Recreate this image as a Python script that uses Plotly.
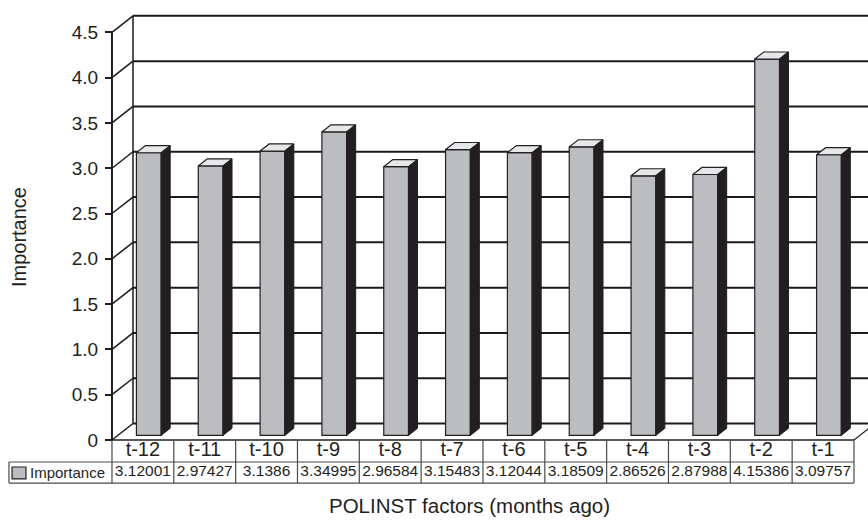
import plotly.graph_objects as go

# ---- data -------------------------------------------------------------
categories = ["t-12", "t-11", "t-10", "t-9", "t-8", "t-7",
              "t-6", "t-5", "t-4", "t-3", "t-2", "t-1"]
importance = [3.12001, 2.97427, 3.1386, 3.34995, 2.96584, 3.15483,
              3.12044, 3.18509, 2.86526, 2.87988, 4.15386, 3.09757]
y_ticks = [0, 0.5, 1.0, 1.5, 2.0, 2.5, 3.0, 3.5, 4.0, 4.5]
y_tick_labels = ["0", "0.5", "1.0", "1.5", "2.0", "2.5", "3.0", "3.5", "4.0", "4.5"]
series_name = "Importance"
x_title = "POLINST factors (months ago)"
y_title = "Importance"

# ---- geometry (axis units) -------------------------------------------
W, H = 868, 520
X_RANGE = [-1.811, 12.227]
Y_RANGE = [-0.883, 4.857]
DEPTH_X, DEPTH_Y = 0.34, 0.182      # oblique offset of the back wall
BAR_Z0, BAR_Z1 = 0.28, 0.71          # bar depth, as a fraction of the box depth
BAR_HALF = 0.2                       # half width of a bar
ROW1, ROW2 = -0.243, -0.475          # bottoms of the two table rows
TABLE_LEFT = -1.666
N = len(categories)
Y_TOP = y_ticks[-1]

FONT = "Liberation Sans, Arial, Helvetica, sans-serif"
INK = "#231f20"
FRONT = "#bcbdc0"
TOPC = "#e6e7e8"
SIDE = "#231f20"
GRID = "#1a1a1a"
TABLE_LINE = "#4a4a4a"


def seg(x0, y0, x1, y1, color=GRID, width=2):
    return dict(type="line", xref="x", yref="y", x0=x0, y0=y0, x1=x1, y1=y1,
                line=dict(color=color, width=width), layer="below")


shapes = []
# walls and floor of the 3-D box
for v in y_ticks:
    shapes.append(seg(0, v, DEPTH_X, v + DEPTH_Y, width=1.5))
    shapes.append(seg(DEPTH_X, v + DEPTH_Y, X_RANGE[1] + 1, v + DEPTH_Y, width=2))
shapes.append(seg(DEPTH_X, DEPTH_Y, DEPTH_X, Y_TOP + DEPTH_Y, width=1.5))
shapes.append(seg(0, 0, 0, Y_TOP, color=INK, width=2))
shapes.append(seg(0, 0, N, 0, color=INK, width=1.5))
shapes.append(seg(N, 0, N + DEPTH_X, DEPTH_Y, color=INK, width=1.2))

# data table grid
for i in range(N + 1):
    shapes.append(seg(i, 0, i, ROW2, color=TABLE_LINE, width=1.2))
shapes.append(seg(TABLE_LEFT, ROW1, N, ROW1, color=TABLE_LINE, width=1.2))
shapes.append(seg(TABLE_LEFT, ROW2, N, ROW2, color=TABLE_LINE, width=1.2))
shapes.append(seg(TABLE_LEFT, ROW1, TABLE_LEFT, ROW2, color=TABLE_LINE, width=1.2))
# legend key swatch in the table
shapes.append(dict(type="rect", xref="x", yref="y",
                   x0=TABLE_LEFT + 0.05, x1=TABLE_LEFT + 0.275,
                   y0=ROW1 - 0.055, y1=ROW1 - 0.187,
                   fillcolor=FRONT, line=dict(color=INK, width=1.2)))

# ---- bars -------------------------------------------------------------
fx, fy = BAR_Z0 * DEPTH_X, BAR_Z0 * DEPTH_Y
bx, by = BAR_Z1 * DEPTH_X, BAR_Z1 * DEPTH_Y
centers = [i + 0.5 + fx for i in range(N)]

fig = go.Figure()
fig.add_trace(go.Bar(
    x=centers, y=importance, base=[fy] * N, width=2 * BAR_HALF,
    marker=dict(color=FRONT, line=dict(color=INK, width=1.2)),
    name=series_name, hoverinfo="skip"))

top_x, top_y, side_x, side_y = [], [], [], []
for c, v in zip(centers, importance):
    xl, xr = c - BAR_HALF, c + BAR_HALF
    ddx, ddy = bx - fx, by - fy
    t = v + fy
    top_x += [xl, xr, xr + ddx, xl + ddx, xl, None]
    top_y += [t, t, t + ddy, t + ddy, t, None]
    side_x += [xr, xr, xr + ddx, xr + ddx, xr, None]
    side_y += [fy, t, t + ddy, fy + ddy, fy, None]

fig.add_trace(go.Scatter(x=top_x, y=top_y, mode="lines", fill="toself",
                         fillcolor=TOPC, line=dict(color=INK, width=1.2),
                         hoverinfo="skip"))
fig.add_trace(go.Scatter(x=side_x, y=side_y, mode="lines", fill="toself",
                         fillcolor=SIDE, line=dict(color=INK, width=1),
                         hoverinfo="skip"))

# ---- table text ---------------------------------------------------------
value_text = [f"{v:.5f}".rstrip("0").rstrip(".") for v in importance]
fig.add_trace(go.Scatter(
    x=[i + 0.5 for i in range(N)], y=[ROW1 / 2] * N, mode="text",
    text=categories, textposition="middle center",
    textfont=dict(family=FONT, size=20, color=INK), hoverinfo="skip"))
fig.add_trace(go.Scatter(
    x=[i + 0.5 for i in range(N)], y=[(ROW1 + ROW2) / 2] * N, mode="text",
    text=value_text, textposition="middle center",
    textfont=dict(family=FONT, size=15.5, color=INK), hoverinfo="skip"))

annotations = [
    dict(x=TABLE_LEFT + 0.3, y=(ROW1 + ROW2) / 2, xref="x", yref="y",
         text=series_name, showarrow=False, xanchor="left", yanchor="middle",
         font=dict(family=FONT, size=15, color=INK)),
    dict(x=5.79, y=-0.72, xref="x", yref="y", text=x_title, showarrow=False,
         xanchor="center", yanchor="middle",
         font=dict(family=FONT, size=20.5, color=INK)),
    dict(x=-1.504, y=2.24, xref="x", yref="y", text=y_title, showarrow=False,
         textangle=-90, xanchor="center", yanchor="middle",
         font=dict(family=FONT, size=20, color=INK)),
]

fig.update_layout(
    width=W, height=H, autosize=False,
    margin=dict(l=0, r=0, t=0, b=0, pad=0),
    paper_bgcolor="white", plot_bgcolor="white",
    showlegend=False, shapes=shapes, annotations=annotations,
    xaxis=dict(range=X_RANGE, domain=[0, 1], visible=False, fixedrange=True),
    yaxis=dict(range=Y_RANGE, domain=[0, 1], anchor="free", position=112 / W,
               tickmode="array", tickvals=y_ticks, ticktext=y_tick_labels,
               ticks="outside", ticklen=7, tickwidth=2, tickcolor=INK,
               tickfont=dict(family=FONT, size=19, color=INK),
               ticklabelstandoff=3,
               showgrid=False, zeroline=False, showline=False,
               automargin=False, fixedrange=True),
)

fig.write_html("out.html")
